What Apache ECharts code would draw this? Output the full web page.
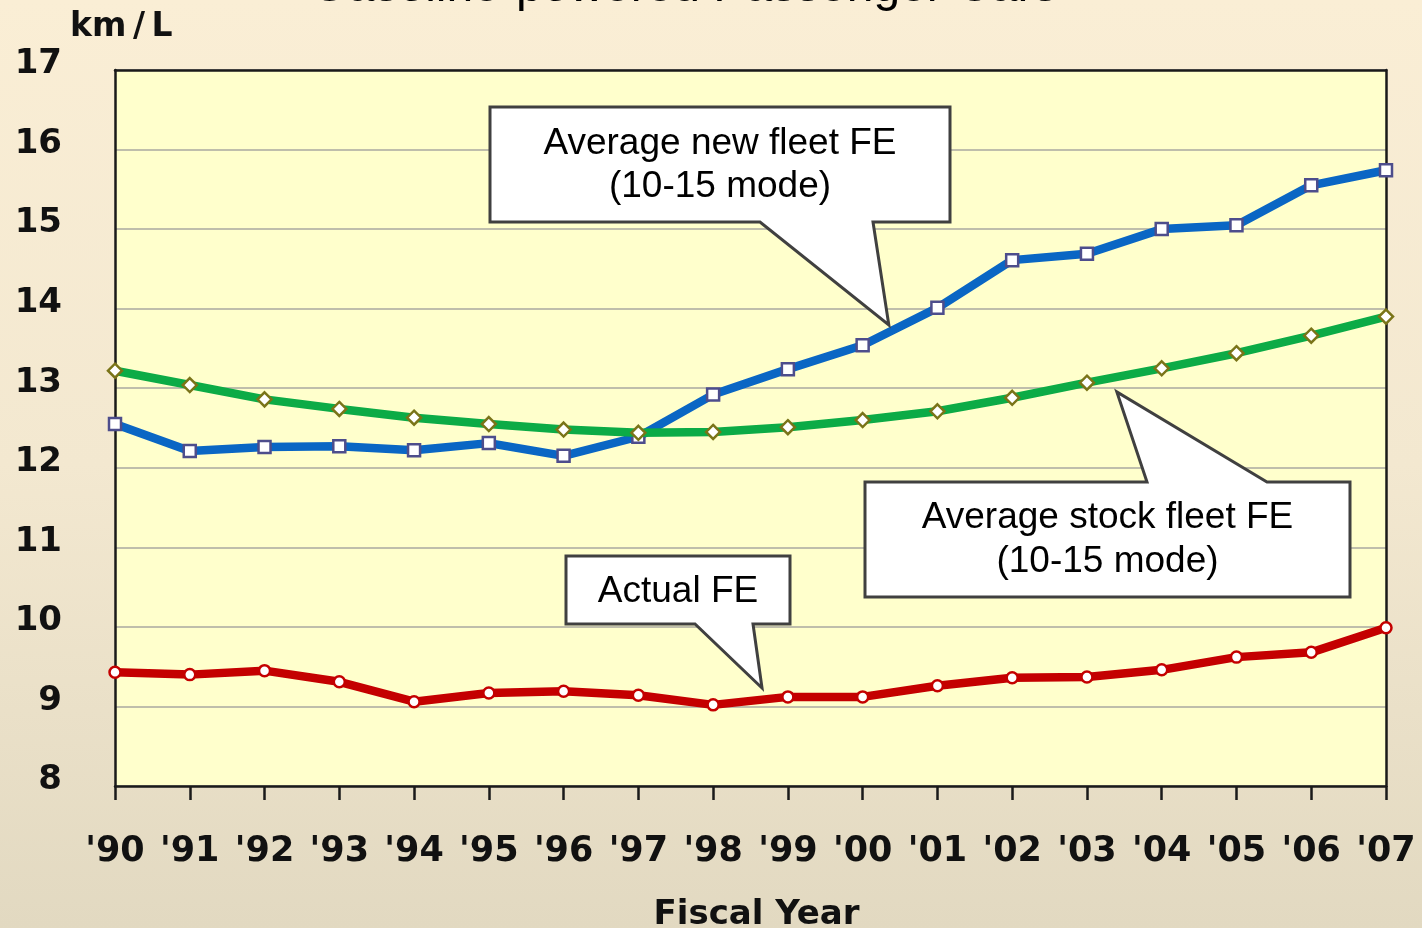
<!DOCTYPE html>
<html>
<head>
<meta charset="utf-8">
<script src="https://cdn.jsdelivr.net/npm/echarts@6/dist/echarts.min.js"></script>
<style>
html,body{margin:0;padding:0;width:1422px;height:928px;overflow:hidden;
background:linear-gradient(to bottom,#faeed5 0%,#f3e8d0 50%,#e2d9c1 100%);}
#c{width:1422px;height:928px;}
</style>
</head>
<body>
<div id="c"></div>
<script>
const categories = ["'90","'91","'92","'93","'94","'95","'96","'97","'98","'99","'00","'01","'02","'03","'04","'05","'06","'07"];
const newFleetFE = [12.55,12.21,12.26,12.27,12.22,12.31,12.15,12.39,12.92,13.24,13.54,14.01,14.61,14.69,15.00,15.05,15.55,15.74];
const stockFleetFE = [13.22,13.04,12.86,12.74,12.63,12.55,12.48,12.44,12.45,12.51,12.60,12.71,12.88,13.07,13.25,13.44,13.66,13.90];
const actualFE = [9.43,9.40,9.45,9.31,9.06,9.17,9.19,9.14,9.02,9.12,9.12,9.26,9.36,9.37,9.46,9.62,9.68,9.99];
const yTicks = [8,9,10,11,12,13,14,15,16,17];

const AX = '#1a1a1a';
const chart = echarts.init(document.getElementById('c'), null, {renderer:'canvas'});
const option = {
  backgroundColor: 'transparent',
  animation: false,
  grid: {left:115, right:36, top:70, bottom:142, show:true, backgroundColor:'#ffffcc',
         borderWidth:0, outerBoundsMode:'none', containLabel:false},
  xAxis: [{
    type:'category', data:categories, boundaryGap:false,
    axisLine:{show:true, lineStyle:{color:AX, width:2.5}},
    axisTick:{show:true, interval:0, length:14, inside:false, lineStyle:{color:AX, width:2.5}},
    axisLabel:{interval:0, margin:48, fontFamily:'DejaVu Sans', fontWeight:'bold', fontSize:35, color:'#111'},
    splitLine:{show:false},
    name:'Fiscal Year', nameLocation:'middle', nameGap:112,
    nameTextStyle:{fontFamily:'DejaVu Sans', fontWeight:'bold', fontSize:34, color:'#111', padding:[0,0,0,12]}
  },{
    type:'category', data:categories, boundaryGap:false, position:'top',
    axisLine:{show:true, lineStyle:{color:AX, width:2.5}}, axisTick:{show:false}, axisLabel:{show:false}, splitLine:{show:false}
  }],
  yAxis: [{
    type:'value', min:yTicks[0], max:yTicks[yTicks.length-1], interval:1,
    axisLine:{show:true, lineStyle:{color:AX, width:2.5}},
    axisTick:{show:false},
    axisLabel:{margin:53, color:'#111', formatter:'{a|{value}}',
               rich:{a:{fontFamily:'DejaVu Sans', fontWeight:'bold', fontSize:34, color:'#111', padding:[0,0,11,0]}}},
    splitLine:{show:true, lineStyle:{color:'#aaa9a0', width:1.5}},
    name:'km\u2009/\u2009L', nameLocation:'end', nameGap:43,
    nameTextStyle:{fontFamily:'DejaVu Sans', fontWeight:'bold', fontSize:33, color:'#111',
                   align:'left', verticalAlign:'middle', padding:[0,0,0,-45]}
  },{
    type:'value', min:yTicks[0], max:yTicks[yTicks.length-1], interval:1, position:'right',
    axisLine:{show:true, lineStyle:{color:AX, width:2.5}}, axisTick:{show:false}, axisLabel:{show:false}, splitLine:{show:false}
  }],
  series: [
    {name:'Average new fleet FE', type:'line', data:newFleetFE, z:2,
     lineStyle:{color:'#0a66c4', width:8.5}, symbol:'rect', symbolSize:12,
     itemStyle:{color:'#ffffff', borderColor:'#4d4d8c', borderWidth:2.5}},
    {name:'Average stock fleet FE', type:'line', data:stockFleetFE, z:3,
     lineStyle:{color:'#0cab46', width:8.5}, symbol:'diamond', symbolSize:14,
     itemStyle:{color:'#ffffff', borderColor:'#7a7418', borderWidth:2.5}},
    {name:'Actual FE', type:'line', data:actualFE, z:2,
     lineStyle:{color:'#c40000', width:8.5}, symbol:'circle', symbolSize:11,
     itemStyle:{color:'#ffffff', borderColor:'#c40000', borderWidth:2.5}}
  ]
};
chart.setOption(option);

// map fractional category position + value to pixels
function toPx(idx, val) {
  const p0 = chart.convertToPixel({gridIndex:0}, [0, val]);
  const p1 = chart.convertToPixel({gridIndex:0}, [1, val]);
  return [p0[0] + idx * (p1[0] - p0[0]), p0[1]];
}

// Callouts: tips anchored in data space, boxes in layout pixels
const callouts = [
  {lines:['Average new fleet FE','(10-15 mode)'], box:[490,107,950,222], side:'bottom', base:[760,873], tip:[10.35,13.795], textY:[144,187]},
  {lines:['Average stock fleet FE','(10-15 mode)'], box:[865,482,1350,597], side:'top', base:[1147,1267], tip:[13.40,12.953], textY:[518,562]},
  {lines:['Actual FE'], box:[566,556,790,624], side:'bottom', base:[695,753], tip:[8.654,9.232], textY:[592]}
];
const g = [];
g.push({type:'text', z:20, style:{text:'Gasoline-powered Passenger Cars', x:684, y:-12,
  textAlign:'center', textVerticalAlign:'middle', font:'48px "Liberation Sans", Arial', fill:'#000'}});
callouts.forEach(c => {
  const t = toPx(c.tip[0], c.tip[1]);
  const [x1,y1,x2,y2] = c.box;
  let pts;
  if (c.side === 'bottom') {
    pts = [[x1,y1],[x2,y1],[x2,y2],[c.base[1],y2],t,[c.base[0],y2],[x1,y2]];
  } else {
    pts = [[x1,y1],[c.base[0],y1],t,[c.base[1],y1],[x2,y1],[x2,y2],[x1,y2]];
  }
  g.push({type:'polygon', z:10, shape:{points:pts}, style:{fill:'#ffffff', stroke:'#404040', lineWidth:3, lineJoin:'miter'}});
  const cx = (x1+x2)/2;
  c.lines.forEach((ln,i) => {
    g.push({type:'text', z:11, style:{text:ln, x:cx, y:c.textY[i], textAlign:'center', textVerticalAlign:'middle',
      font:'37px "Liberation Sans", Arial', fill:'#000'}});
  });
});
chart.setOption({graphic:g});
</script>
</body>
</html>
